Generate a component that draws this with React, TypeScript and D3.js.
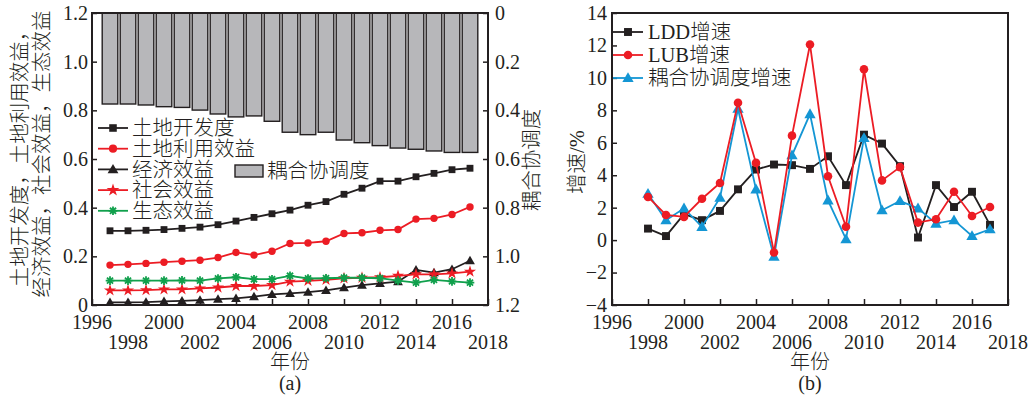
import React, { useEffect, useRef } from "react";
import * as d3 from "d3";

// (a) 1997-2017
const yearsA = [1997, 1998, 1999, 2000, 2001, 2002, 2003, 2004, 2005, 2006, 2007, 2008, 2009, 2010, 2011, 2012, 2013, 2014, 2015, 2016, 2017];
const landDev = [0.305, 0.305, 0.307, 0.31, 0.315, 0.32, 0.33, 0.345, 0.36, 0.375, 0.39, 0.41, 0.425, 0.455, 0.48, 0.509, 0.509, 0.527, 0.541, 0.556, 0.562];
const landUse = [0.164, 0.167, 0.171, 0.176, 0.18, 0.184, 0.195, 0.216, 0.205, 0.221, 0.253, 0.255, 0.262, 0.294, 0.297, 0.307, 0.31, 0.353, 0.356, 0.372, 0.403];
const econ = [0.011, 0.011, 0.012, 0.015, 0.017, 0.02, 0.024, 0.027, 0.034, 0.044, 0.048, 0.053, 0.06, 0.071, 0.082, 0.089, 0.096, 0.144, 0.133, 0.147, 0.182];
const social = [0.06, 0.06, 0.061, 0.064, 0.064, 0.068, 0.072, 0.078, 0.078, 0.082, 0.096, 0.099, 0.103, 0.11, 0.112, 0.114, 0.12, 0.126, 0.126, 0.13, 0.137];
const eco = [0.1, 0.1, 0.1, 0.1, 0.101, 0.1, 0.109, 0.114, 0.106, 0.106, 0.12, 0.109, 0.11, 0.112, 0.112, 0.11, 0.1, 0.092, 0.103, 0.097, 0.092];
const coord = [0.374, 0.374, 0.378, 0.385, 0.388, 0.399, 0.415, 0.427, 0.423, 0.445, 0.49, 0.5, 0.49, 0.522, 0.533, 0.545, 0.555, 0.56, 0.567, 0.573, 0.573];

// (b) 1998-2017
const yearsB = [1998, 1999, 2000, 2001, 2002, 2003, 2004, 2005, 2006, 2007, 2008, 2009, 2010, 2011, 2012, 2013, 2014, 2015, 2016, 2017];
const lddRate = [0.71, 0.25, 1.6, 1.23, 1.8, 3.13, 4.35, 4.66, 4.62, 4.39, 5.17, 3.39, 6.5, 5.95, 4.56, 0.16, 3.39, 2.04, 2.98, 0.94];
const lubRate = [2.66, 1.55, 1.43, 2.55, 3.52, 8.47, 4.76, -0.76, 6.44, 12.06, 3.94, 0.82, 10.53, 3.68, 4.5, 1.08, 1.29, 2.98, 1.49, 2.04];
const coordRate = [2.86, 1.23, 1.96, 0.82, 2.61, 8.1, 3.13, -1.02, 5.23, 7.77, 2.45, 0.06, 6.3, 1.84, 2.41, 1.96, 1.02, 1.23, 0.26, 0.67];

const xTicks = [1996, 1998, 2000, 2002, 2004, 2006, 2008, 2010, 2012, 2014, 2016, 2018];
const leftTicks = [0, 0.2, 0.4, 0.6, 0.8, 1.0, 1.2];
const rateTicks = [-4, -2, 0, 2, 4, 6, 8, 10, 12, 14];

const BLACK = "#231f20";
const RED = "#ec1c24";
const GREEN = "#10a04c";
const BLUE = "#1496d4";
const NUM_FONT = "Liberation Serif, Times New Roman, serif";
const CJK_FONT = "Liberation Serif, Noto Sans CJK SC, sans-serif";

const App = () => {
  const ref = useRef<SVGSVGElement>(null);

  useEffect(() => {
    const svg = d3.select(ref.current);
    svg.selectAll("*").remove();

    const top = 13;
    const bottom = 305;

    // draw a marker of some kind at (x, y)
    const marker = (g: any, kind: string, x: number, y: number, color: string, size = 1) => {
      if (kind === "square") {
        g.append("rect").attr("x", x - 3.6 * size).attr("y", y - 3.6 * size)
          .attr("width", 7.2 * size).attr("height", 7.2 * size).attr("fill", color);
      } else if (kind === "circle") {
        g.append("circle").attr("cx", x).attr("cy", y).attr("r", 3.9 * size).attr("fill", color);
      } else if (kind === "triangle") {
        g.append("path").attr("transform", `translate(${x},${y + 0.8})`)
          .attr("d", d3.symbol(d3.symbolTriangle, 46 * size * size)()).attr("fill", color);
      } else if (kind === "star") {
        g.append("path").attr("transform", `translate(${x},${y})`)
          .attr("d", d3.symbol(d3.symbolStar, 48 * size)()).attr("fill", color);
      } else if (kind === "asterisk") {
        const r = 4.3;
        const p = d3.path();
        for (let k = 0; k < 4; k++) {
          const a = (k * Math.PI) / 4;
          p.moveTo(x - r * Math.cos(a), y - r * Math.sin(a));
          p.lineTo(x + r * Math.cos(a), y + r * Math.sin(a));
        }
        g.append("path").attr("d", p.toString()).attr("stroke", color).attr("stroke-width", 1.8).attr("fill", "none");
      }
    };

    const label = (g: any, x: number, y: number, text: string, opts: any = {}) =>
      g.append("text")
        .attr("x", x).attr("y", y)
        .attr("text-anchor", opts.anchor || "start")
        .attr("dy", opts.dy || null)
        .attr("transform", opts.rotate ? `rotate(-90,${x},${y})` : null)
        .style("font-family", opts.cjk ? CJK_FONT : NUM_FONT)
        .style("font-weight", opts.cjk ? 300 : 400)
        .style("font-size", `${opts.size || 20}px`)
        .attr("fill", BLACK)
        .text(text);

    const xAxisLabels = (g: any, x: d3.ScaleLinear<number, number>, cx: number, tag: string) => {
      xTicks.forEach((t, i) => label(g, x(t), i % 2 === 0 ? 329 : 349, String(t), { anchor: "middle" }));
      label(g, cx, 369, "年份", { anchor: "middle", cjk: true });
      label(g, cx, 390, tag, { anchor: "middle" });
    };

    const styleAxis = (g: any) => {
      g.select(".domain").remove();
      g.attr("font-family", null).attr("font-size", null);
      g.selectAll(".tick line").attr("stroke", BLACK).attr("stroke-width", 1.5);
      g.selectAll(".tick text").style("font-family", NUM_FONT).style("font-size", "20px").attr("fill", BLACK);
    };

    // ===== (a) =====
    const ga = svg.append("g");
    const xa = d3.scaleLinear().domain([1996, 2018]).range([92, 488]);
    const ya = d3.scaleLinear().domain([0, 1.2]).range([bottom, top]);
    const ya2 = d3.scaleLinear().domain([0, 1.2]).range([top, bottom]);
    const fmt = (d: number) => (d === 0 ? "0" : d3.format(".1f")(d));

    // bars hang from top
    ga.append("g").selectAll("rect").data(coord).join("rect")
      .attr("x", (d, i) => xa(yearsA[i]) - 7.8)
      .attr("y", ya2(0))
      .attr("width", 15.6)
      .attr("height", (d) => ya2(d) - ya2(0))
      .attr("fill", "#b7b7ba")
      .attr("stroke", BLACK)
      .attr("stroke-width", 1.4);

    const seriesA = [
      { name: "土地开发度", values: landDev, color: BLACK, kind: "square" },
      { name: "土地利用效益", values: landUse, color: RED, kind: "circle" },
      { name: "经济效益", values: econ, color: BLACK, kind: "triangle" },
      { name: "社会效益", values: social, color: RED, kind: "star" },
      { name: "生态效益", values: eco, color: GREEN, kind: "asterisk" },
    ];
    const lineA = d3.line<number>().x((d, i) => xa(yearsA[i])).y((d) => ya(d));
    seriesA.forEach((s) => {
      ga.append("path").attr("d", lineA(s.values)).attr("fill", "none")
        .attr("stroke", s.color).attr("stroke-width", 1.8);
      s.values.forEach((v, i) => marker(ga, s.kind, xa(yearsA[i]), ya(v), s.color, 0.95));
    });

    ga.append("g").attr("transform", "translate(92,0)")
      .call(d3.axisLeft(ya).tickValues(leftTicks).tickSize(-5).tickPadding(4).tickFormat(fmt as any))
      .call(styleAxis);
    ga.append("g").attr("transform", "translate(488,0)")
      .call(d3.axisRight(ya2).tickValues(leftTicks).tickSize(-5).tickPadding(7).tickFormat(fmt as any))
      .call(styleAxis);
    ga.append("g").attr("transform", `translate(0,${bottom})`)
      .call(d3.axisBottom(xa).tickValues(xTicks).tickSize(-6).tickFormat(() => ""))
      .call(styleAxis);
    ga.append("rect").attr("x", 92).attr("y", top).attr("width", 396).attr("height", bottom - top)
      .attr("fill", "none").attr("stroke", BLACK).attr("stroke-width", 2);

    // legend
    seriesA.forEach((s, i) => {
      const y = 128 + i * 20.7;
      ga.append("line").attr("x1", 98).attr("x2", 128).attr("y1", y).attr("y2", y)
        .attr("stroke", s.color).attr("stroke-width", 1.8);
      marker(ga, s.kind, 113, y, s.color, 1.05);
      label(ga, 132, y, s.name, { dy: "0.36em", size: 20.5, cjk: true });
    });
    ga.append("rect").attr("x", 235).attr("y", 165).attr("width", 28).attr("height", 12)
      .attr("fill", "#b7b7ba").attr("stroke", BLACK).attr("stroke-width", 1.4);
    label(ga, 267, 171, "耦合协调度", { dy: "0.36em", size: 20.5, cjk: true });

    // axis titles
    label(ga, 20, 154, "土地开发度，土地利用效益，", { anchor: "middle", dy: "0.36em", size: 20.5, rotate: true, cjk: true });
    label(ga, 42, 154, "经济效益，社会效益，生态效益", { anchor: "middle", dy: "0.36em", size: 20.5, rotate: true, cjk: true });
    label(ga, 532, 160, "耦合协调度", { anchor: "middle", dy: "0.36em", size: 20.5, rotate: true, cjk: true });
    xAxisLabels(ga, xa, 290, "(a)");

    // ===== (b) =====
    const gb = svg.append("g");
    const xb = d3.scaleLinear().domain([1996, 2018]).range([612, 1008]);
    const yb = d3.scaleLinear().domain([-4, 14]).range([bottom, top]);

    const seriesB = [
      { name: "LDD增速", values: lddRate, color: BLACK, kind: "square" },
      { name: "LUB增速", values: lubRate, color: RED, kind: "circle" },
      { name: "耦合协调度增速", values: coordRate, color: BLUE, kind: "triangle" },
    ];
    const lineB = d3.line<number>().x((d, i) => xb(yearsB[i])).y((d) => yb(d));
    [0, 2, 1].forEach((k) => {
      const s = seriesB[k];
      gb.append("path").attr("d", lineB(s.values)).attr("fill", "none")
        .attr("stroke", s.color).attr("stroke-width", 1.8);
      s.values.forEach((v, i) => marker(gb, s.kind, xb(yearsB[i]), yb(v), s.color, 1.1));
    });

    gb.append("g").attr("transform", "translate(612,0)")
      .call(d3.axisLeft(yb).tickValues(rateTicks).tickSize(-5).tickPadding(5))
      .call(styleAxis);
    gb.append("g").attr("transform", `translate(0,${bottom})`)
      .call(d3.axisBottom(xb).tickValues(xTicks).tickSize(-6).tickFormat(() => ""))
      .call(styleAxis);
    gb.append("rect").attr("x", 612).attr("y", top).attr("width", 396).attr("height", bottom - top)
      .attr("fill", "none").attr("stroke", BLACK).attr("stroke-width", 2);

    seriesB.forEach((s, i) => {
      const y = 32 + i * 23;
      gb.append("line").attr("x1", 613).attr("x2", 643).attr("y1", y).attr("y2", y)
        .attr("stroke", s.color).attr("stroke-width", 1.8);
      marker(gb, s.kind, 628, y, s.color, 1.1);
      label(gb, 648, y, s.name, { dy: "0.36em", size: 20.5, cjk: true });
    });

    label(gb, 577, 162, "增速/%", { anchor: "middle", dy: "0.36em", size: 20.5, rotate: true, cjk: true });
    xAxisLabels(gb, xb, 810, "(b)");
  }, []);

  return (
    <svg
      ref={ref}
      width={1035}
      height={398}
      style={{ position: "absolute", left: 0, top: 0, background: "#fff" }}
    />
  );
};

export default App;
